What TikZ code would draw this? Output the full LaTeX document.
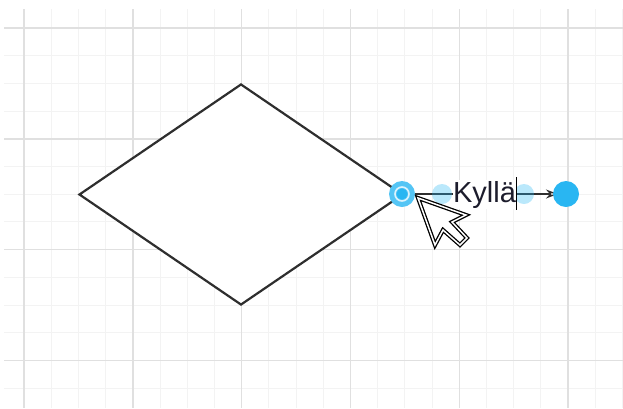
\documentclass[tikz,border=0pt]{standalone}
\usepackage{fontspec}
\setmainfont{Liberation Sans}
\usetikzlibrary{shapes.geometric, arrows.meta}

\definecolor{gridminor}{HTML}{F3F3F3}
\definecolor{gridmajor}{HTML}{E0E0E0}
\definecolor{pointblue}{HTML}{29B6F2}
\definecolor{shapeline}{HTML}{2E2E2E}
\definecolor{labeltext}{HTML}{1C1C2C}

\begin{document}
\begin{tikzpicture}[x=1pt, y=-1pt,
    minorline/.style={gridminor, line width=1pt},
    majorline/.style={gridmajor, line width=1.4pt},
    decision/.style={diamond, draw=shapeline, line width=2.2pt, fill=white,
      minimum width=324pt, minimum height=221pt, inner sep=0pt},
    edgeline/.style={draw=shapeline, line width=1.3pt, shorten >=8pt,
      -{Stealth[length=12pt, width=9pt, open, line width=1.3pt]}},
    ghost/.style={circle, fill=pointblue, fill opacity=0.32, minimum size=20pt, inner sep=0pt},
    srcpoint/.style={circle, fill=pointblue!80!white, minimum size=26pt, inner sep=0pt},
    tgtpoint/.style={circle, fill=pointblue, minimum size=26pt, inner sep=0pt},
    edgelabel/.style={fill=white, inner sep=0.5pt, text=labeltext,
      font=\fontsize{29pt}{30pt}\selectfont},
    pointer/.style={draw=black, line width=1.3pt, double=white, double distance=1.5pt,
      fill=white, line join=miter}]
  \useasboundingbox (0,0) rectangle (623,408);
  %grid, minor then major
  \foreach \k in {0,...,22}
    \draw[minorline] (24+27.2*\k,9) -- (24+27.2*\k,408);
  \foreach \k in {0,...,13}
    \draw[minorline] (4,28+27.7*\k) -- (623,28+27.7*\k);
  \foreach \k in {0,...,5}
    \draw[majorline] (24+108.8*\k,9) -- (24+108.8*\k,408);
  \foreach \k in {0,...,3}
    \draw[majorline] (4,28+110.8*\k) -- (623,28+110.8*\k);
  %decision shape
  \node[decision] (D) at (241,194.5) {};
  %edge being edited
  \coordinate (S) at (402,194);
  \coordinate (T) at (566,194);
  \draw[edgeline] (S) -- (T);
  \node[ghost] (h1) at (442,194) {};
  \node[ghost] (h2) at (524,194) {};
  \node[edgelabel, anchor=base] (L) at (484.5,202) {Kyllä};
  \draw[black, line width=1.4pt] (516.5,177) -- (516.5,210); % text caret
  %end points
  \node[srcpoint] (src) at (S) {};
  \draw[white, opacity=0.8, line width=1.6pt] (src) circle (7);
  \fill[pointblue] (src) circle (5.5);
  \node[tgtpoint] (tgt) at (T) {};
  %mouse pointer
  \draw[pointer] (418,198) -- (435,245) -- (443,230) -- (460,245)
    -- (467,238) -- (452,222) -- (466,215) -- cycle;
\end{tikzpicture}
\end{document}
